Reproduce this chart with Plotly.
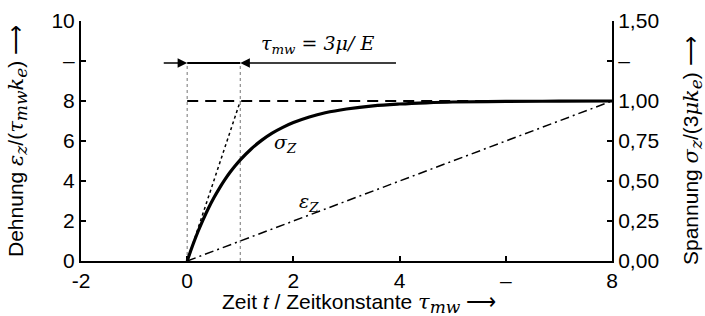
import numpy as np
import plotly.graph_objects as go

# ---- data ----
t_sigma = [0, 0.1, 0.2, 0.3, 0.4, 0.5, 0.6, 0.7, 0.8, 0.9, 1.0, 1.2, 1.4, 1.6, 1.8, 2.0, 2.3, 2.6, 3.0, 3.5, 4.0, 4.5, 5.0, 6.0, 7.0, 8.0]
sigma_vals = [0, 0.76, 1.45, 2.07, 2.64, 3.15, 3.61, 4.03, 4.41, 4.75, 5.06, 5.59, 6.03, 6.39, 6.68, 6.92, 7.20, 7.41, 7.60, 7.76, 7.85, 7.91, 7.95, 7.98, 7.99, 8.0]
t_eps = [0, 8]
eps_vals = [0, 8]
t_tangent = [0, 1]
tangent_vals = [0, 8]
t_plateau = [0, 8]
plateau_vals = [8, 8]
vline_x = [0, 1]
vline_top = 9.9
arrow_left_start = -0.47
arrow_right_end = 3.96

x_ticks = [-2, 0, 2, 4, 6, 8]
x_ticktext = ["-2", "0", "2", "4", "–", "8"]
y_ticks = [0, 2, 4, 6, 8, 10, 12]
y_ticktext = ["0", "2", "4", "6", "8", "–", "10"]
y2_ticks = [0, 0.25, 0.5, 0.75, 1.0, 1.25, 1.5]
y2_ticktext = ["0,00", "0,25", "0,50", "0,75", "1,00", "–", "1,50"]

SERIF = "'DejaVu Serif',serif"
def m(s):
    return f"<span style=\"font-family:{SERIF}\"><i>{s}</i></span>"
def msub(s, size=None):
    st = f"font-family:{SERIF}" + (f";font-size:{size}px" if size else "")
    return f"<sub><span style=\"{st}\"><i>{s}</i></span></sub>"

FS = 21

fig = go.Figure()

# gray vertical guides
for xv in vline_x:
    fig.add_trace(go.Scatter(x=[xv, xv], y=[0, vline_top], mode="lines",
                             line=dict(color="#8c8c8c", width=1.2, dash="dot"),
                             showlegend=False, hoverinfo="skip"))
# plateau dashed
fig.add_trace(go.Scatter(x=t_plateau, y=plateau_vals, mode="lines",
                         line=dict(color="black", width=2, dash="11px,7px"),
                         showlegend=False))
# tangent dotted
fig.add_trace(go.Scatter(x=t_tangent, y=tangent_vals, mode="lines",
                         line=dict(color="black", width=1.5, dash="3px,3px"),
                         showlegend=False))
# epsilon dash-dot
fig.add_trace(go.Scatter(x=t_eps, y=eps_vals, mode="lines",
                         line=dict(color="black", width=1.5, dash="9px,4px,2px,4px"),
                         showlegend=False))
# sigma curve
fig.add_trace(go.Scatter(x=t_sigma, y=sigma_vals, mode="lines", line_shape="spline",
                         line=dict(color="black", width=3.2), showlegend=False))
# arrow line between
fig.add_trace(go.Scatter(x=vline_x, y=[vline_top, vline_top], mode="lines",
                         line=dict(color="black", width=2), showlegend=False))
# invisible trace on y2
fig.add_trace(go.Scatter(x=[0], y=[0], yaxis="y2", mode="markers",
                         marker=dict(opacity=0), showlegend=False, hoverinfo="skip"))

fig.add_annotation(x=vline_x[0], y=vline_top, ax=arrow_left_start, ay=vline_top,
                   xref="x", yref="y", axref="x", ayref="y", text="",
                   showarrow=True, arrowhead=2, arrowsize=1.2, arrowwidth=1.6, arrowcolor="black")
fig.add_annotation(x=vline_x[1], y=vline_top, ax=arrow_right_end, ay=vline_top,
                   xref="x", yref="y", axref="x", ayref="y", text="",
                   showarrow=True, arrowhead=2, arrowsize=1.2, arrowwidth=1.6, arrowcolor="black")
fig.add_annotation(x=2.45, y=10.85, xref="x", yref="y", showarrow=False,
                   text=m("τ") + msub("mw") + f"<span style=\"font-family:{SERIF}\"> = <i>3μ/ E</i></span>",
                   font=dict(size=19, color="black"))
fig.add_annotation(x=1.85, y=5.9, xref="x", yref="y", showarrow=False,
                   text=m("σ") + msub("Z"), font=dict(size=19, color="black"))
fig.add_annotation(x=2.3, y=2.95, xref="x", yref="y", showarrow=False,
                   text=m("ε") + msub("Z"), font=dict(size=19, color="black"))

# axis titles
fig.add_annotation(x=0.5, y=0, xref="paper", yref="paper", showarrow=False, yanchor="middle",
                   xshift=12, yshift=-42,
                   text="Zeit <i>t</i> / Zeitkonstante " + m("τ") + msub("mw", 17) + " ⟶",
                   font=dict(size=FS))
fig.add_annotation(x=0, y=0.5, xref="paper", yref="paper", showarrow=False, textangle=-90,
                   xanchor="center", xshift=-64, yshift=0,
                   text="Dehnung " + m("ε") + msub("z", 17) + "/(" + m("τ") + msub("mw", 17) + m("k") + msub("e", 17) + ") ⟶",
                   font=dict(size=FS))
fig.add_annotation(x=1, y=0.5, xref="paper", yref="paper", showarrow=False, textangle=-90,
                   xanchor="center", xshift=80, yshift=-10,
                   text="Spannung " + m("σ") + msub("z", 17) + "/(3" + m("μk") + msub("e", 17) + ") ⟶",
                   font=dict(size=FS))

axis_common = dict(showgrid=False, zeroline=False, showline=True, linecolor="black", linewidth=2,
                   ticks="inside", ticklen=5, tickwidth=1.5, tickcolor="black",
                   tickfont=dict(size=FS), automargin=False)

fig.update_layout(
    width=705, height=316,
    margin=dict(l=81, r=93, t=21, b=55, autoexpand=False),
    paper_bgcolor="white", plot_bgcolor="white",
    font=dict(family="Liberation Sans, Arial, sans-serif", size=FS, color="black"),
    xaxis=dict(range=[-2, 8], tickvals=x_ticks, ticktext=x_ticktext, **axis_common),
    yaxis=dict(range=[0, 12], tickvals=y_ticks, ticktext=y_ticktext, **axis_common),
    yaxis2=dict(range=[0, 1.5], tickvals=y2_ticks, ticktext=y2_ticktext, overlaying="y", side="right",
                **axis_common),
)

fig.write_html("out.html", config={"displayModeBar": False},
               post_script="document.body.style.margin='0';document.body.style.overflow='hidden';")
